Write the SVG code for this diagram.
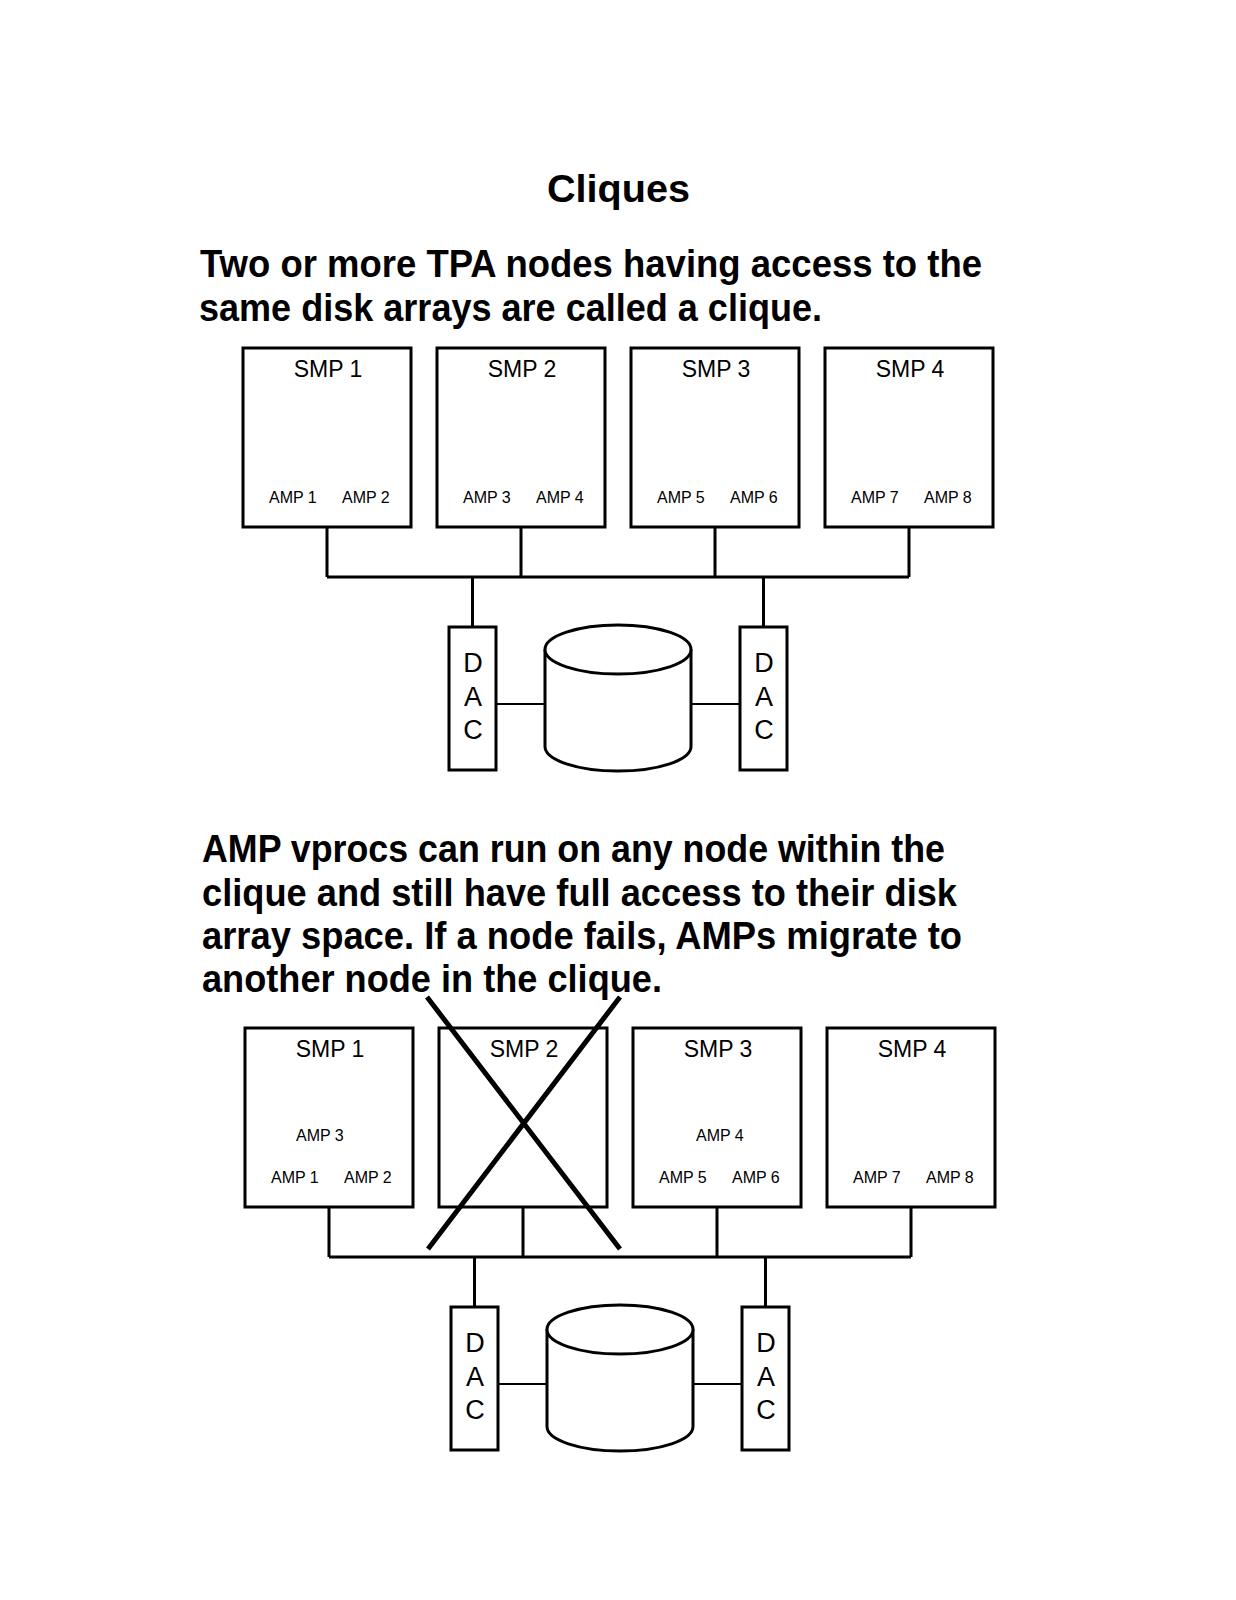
<svg xmlns="http://www.w3.org/2000/svg" width="1236" height="1600" viewBox="0 0 1236 1600">
<style>
  .box { fill: #fff; stroke: #000; stroke-width: 3; }
  .wire { fill: none; stroke: #000; stroke-width: 3; }
  .thin { fill: none; stroke: #000; stroke-width: 2; }
  .cross { fill: none; stroke: #000; stroke-width: 5; }
  .disk { fill: #fff; stroke: #000; stroke-width: 3; }
  .head { font-family: "Liberation Sans", Arial, sans-serif; font-weight: bold; fill: #000; }
  .smp { font-family: "Liberation Sans", Arial, sans-serif; font-size: 23px; fill: #000; text-anchor: middle; }
  .amp { font-family: "Liberation Sans", Arial, sans-serif; font-size: 16px; fill: #000; }
  .dac { font-family: "Liberation Sans", Arial, sans-serif; font-size: 27px; fill: #000; text-anchor: middle; }
</style>
<rect width="1236" height="1600" fill="#fff"/>

<g id="texts">
  <text class="head" x="547" y="202" font-size="39" textLength="143" lengthAdjust="spacingAndGlyphs">Cliques</text>
  <text class="head" x="200" y="277" font-size="39.5" textLength="782" lengthAdjust="spacingAndGlyphs">Two or more TPA nodes having access to the</text>
  <text class="head" x="199" y="320.5" font-size="39.5" textLength="623" lengthAdjust="spacingAndGlyphs">same disk arrays are called a clique.</text>
  <text class="head" x="202" y="862" font-size="39.5" textLength="743" lengthAdjust="spacingAndGlyphs">AMP vprocs can run on any node within the</text>
  <text class="head" x="202" y="905.5" font-size="39.5" textLength="755" lengthAdjust="spacingAndGlyphs">clique and still have full access to their disk</text>
  <text class="head" x="202" y="949" font-size="39.5" textLength="760" lengthAdjust="spacingAndGlyphs">array space. If a node fails, AMPs migrate to</text>
  <text class="head" x="202" y="992" font-size="39.5" textLength="460" lengthAdjust="spacingAndGlyphs">another node in the clique.</text>
</g>

<g id="connectors">
  <!-- top -->
  <path class="wire" d="M327,528 V577 M521,528 V577 M715,528 V577 M909,528 V577 M327,577 H909 M472.5,577 V626 M763.5,577 V626"/>
  <path class="thin" d="M497,704 H545 M691,704 H739"/>
  <!-- bottom -->
  <path class="wire" d="M329,1208 V1257 M523,1208 V1257 M717,1208 V1257 M911,1208 V1257 M329,1257 H911 M474.5,1257 V1306 M765.5,1257 V1306"/>
  <path class="thin" d="M499,1384 H547 M693,1384 H741"/>
</g>

<g id="top-smp1">
  <rect class="box" x="243" y="348" width="168" height="179"/>
  <text class="smp" x="328" y="377">SMP 1</text>
  <text class="amp" x="269" y="503">AMP 1</text>
  <text class="amp" x="342" y="503">AMP 2</text>
</g>
<g id="top-smp2">
  <rect class="box" x="437" y="348" width="168" height="179"/>
  <text class="smp" x="522" y="377">SMP 2</text>
  <text class="amp" x="463" y="503">AMP 3</text>
  <text class="amp" x="536" y="503">AMP 4</text>
</g>
<g id="top-smp3">
  <rect class="box" x="631" y="348" width="168" height="179"/>
  <text class="smp" x="716" y="377">SMP 3</text>
  <text class="amp" x="657" y="503">AMP 5</text>
  <text class="amp" x="730" y="503">AMP 6</text>
</g>
<g id="top-smp4">
  <rect class="box" x="825" y="348" width="168" height="179"/>
  <text class="smp" x="910" y="377">SMP 4</text>
  <text class="amp" x="851" y="503">AMP 7</text>
  <text class="amp" x="924" y="503">AMP 8</text>
</g>
<g id="top-dac1">
  <rect class="box" x="449" y="627" width="47" height="143"/>
  <text class="dac" x="473" y="672">D</text>
  <text class="dac" x="473" y="705.5">A</text>
  <text class="dac" x="473" y="739">C</text>
</g>
<g id="top-dac2">
  <rect class="box" x="740" y="627" width="47" height="143"/>
  <text class="dac" x="764" y="672">D</text>
  <text class="dac" x="764" y="705.5">A</text>
  <text class="dac" x="764" y="739">C</text>
</g>
<g id="top-disk">
  <path class="disk" d="M545,649.5 V746.5 A73,24.5 0 0 0 691,746.5 V649.5"/>
  <ellipse class="disk" cx="618" cy="649.5" rx="73" ry="24.5"/>
</g>

<g id="bottom-smp1">
  <rect class="box" x="245" y="1028" width="168" height="179"/>
  <text class="smp" x="330" y="1057">SMP 1</text>
  <text class="amp" x="296" y="1141">AMP 3</text>
  <text class="amp" x="271" y="1183">AMP 1</text>
  <text class="amp" x="344" y="1183">AMP 2</text>
</g>
<g id="bottom-smp2">
  <rect class="box" x="439" y="1028" width="168" height="179"/>
  <text class="smp" x="524" y="1057">SMP 2</text>
</g>
<g id="bottom-smp3">
  <rect class="box" x="633" y="1028" width="168" height="179"/>
  <text class="smp" x="718" y="1057">SMP 3</text>
  <text class="amp" x="696" y="1141">AMP 4</text>
  <text class="amp" x="659" y="1183">AMP 5</text>
  <text class="amp" x="732" y="1183">AMP 6</text>
</g>
<g id="bottom-smp4">
  <rect class="box" x="827" y="1028" width="168" height="179"/>
  <text class="smp" x="912" y="1057">SMP 4</text>
  <text class="amp" x="853" y="1183">AMP 7</text>
  <text class="amp" x="926" y="1183">AMP 8</text>
</g>
<g id="bottom-dac1">
  <rect class="box" x="451" y="1307" width="47" height="143"/>
  <text class="dac" x="475" y="1352">D</text>
  <text class="dac" x="475" y="1385.5">A</text>
  <text class="dac" x="475" y="1419">C</text>
</g>
<g id="bottom-dac2">
  <rect class="box" x="742" y="1307" width="47" height="143"/>
  <text class="dac" x="766" y="1352">D</text>
  <text class="dac" x="766" y="1385.5">A</text>
  <text class="dac" x="766" y="1419">C</text>
</g>
<g id="bottom-disk">
  <path class="disk" d="M547,1329.5 V1426.5 A73,24.5 0 0 0 693,1426.5 V1329.5"/>
  <ellipse class="disk" cx="620" cy="1329.5" rx="73" ry="24.5"/>
</g>

<g id="failure-cross">
  <path class="cross" d="M427,997 L620,1249 M620,997 L428,1249"/>
</g>
</svg>
